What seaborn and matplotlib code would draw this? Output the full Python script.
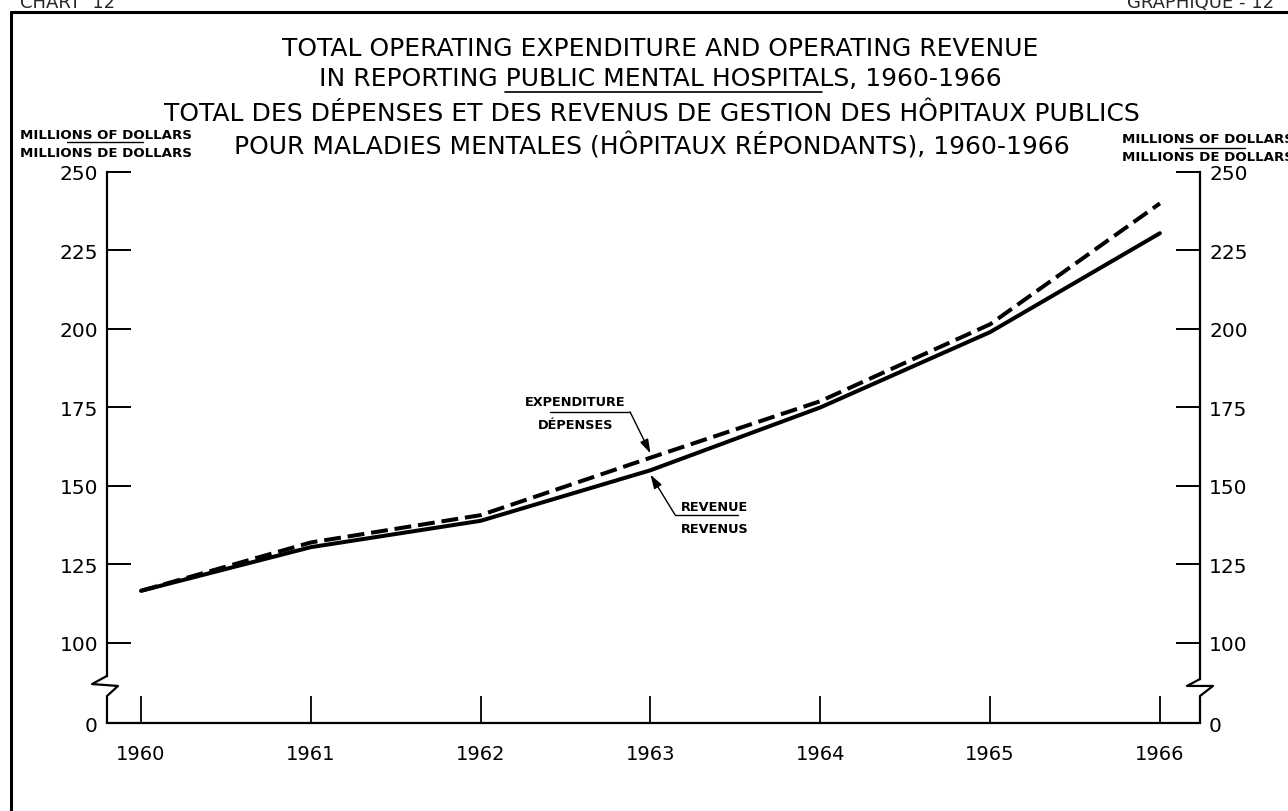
import matplotlib
matplotlib.use("Agg")
import pandas as pd
import seaborn as sns
import matplotlib.pyplot as plt
from matplotlib.lines import Line2D

# ---- data (millions of dollars) ----
years = [1960, 1961, 1962, 1963, 1964, 1965, 1966]
expenditure = [116.6, 132.0, 140.7, 159.0, 177.0, 201.5, 240.0]
revenue = [116.6, 130.5, 138.9, 155.0, 175.0, 199.0, 230.5]

y_ticks = [100, 125, 150, 175, 200, 225, 250]
ZERO_POS = 74.5   # the "0" sits below the axis break

title_en = ["TOTAL OPERATING EXPENDITURE AND OPERATING REVENUE",
            "IN REPORTING PUBLIC MENTAL HOSPITALS, 1960-1966"]
title_fr = ["TOTAL DES DÉPENSES ET DES REVENUS DE GESTION DES HÔPITAUX PUBLICS",
            "POUR MALADIES MENTALES (HÔPITAUX RÉPONDANTS), 1960-1966"]
unit_en = "MILLIONS OF DOLLARS"
unit_fr = "MILLIONS DE DOLLARS"

sns.set_theme(style="white")
plt.rcParams["font.family"] = ["DejaVu Sans"]

W, H = 1288, 812


def fx(px):
    return px / W


def fy(py):
    return 1 - py / H


df = pd.DataFrame({
    "year": years * 2,
    "value": expenditure + revenue,
    "serie": ["exp"] * len(years) + ["rev"] * len(years),
})

fig = plt.figure(figsize=(12.88, 8.12), dpi=100)
ax = fig.add_axes([fx(107), fy(724), fx(1200) - fx(107), fy(173) - fy(724)])

sns.lineplot(data=df, x="year", y="value", style="serie",
             dashes={"exp": (4.2, 1.7), "rev": ""}, color="black",
             linewidth=2.9, legend=False, ax=ax)

ax.set_xlim(1959.80, 1966.236)
ax.set_ylim(ZERO_POS, 250)
ax.set_xlabel("")
ax.set_ylabel("")

ax.set_xticks(years)
ax.set_xticklabels([str(y) for y in years], fontsize=14)
ax.set_yticks([ZERO_POS] + y_ticks)
ax.set_yticklabels(["0"] + [str(v) for v in y_ticks], fontsize=14.5)

ax.tick_params(axis="x", direction="in", length=19.5, width=1.3, pad=15,
               bottom=True, colors="black")
ax.tick_params(axis="y", direction="in", length=17.3, width=1.4, pad=6.5,
               left=True, right=True, labelleft=True, labelright=True,
               colors="black")

# spines with a broken scale between 0 and 100
ax.spines["top"].set_visible(False)
for side in ["left", "right", "bottom"]:
    ax.spines[side].set_color("black")
    ax.spines[side].set_linewidth(1.6)
ax.spines["left"].set_bounds(89.5, 250)
ax.spines["right"].set_bounds(88.5, 250)

ytr = ax.get_yaxis_transform()
ax.plot([0, -0.0137, 0.0101, 0, 0], [89.5, 86.9, 86.3, 83.1, ZERO_POS],
        transform=ytr, color="black", lw=1.6, clip_on=False)
ax.plot([1, 1 - 0.0119, 1 + 0.0119, 1, 1], [88.5, 86.3, 86.3, 83.1, ZERO_POS],
        transform=ytr, color="black", lw=1.6, clip_on=False)

# ---- line labels with leaders ----
note_kw = dict(fontsize=9.3, fontweight="bold", color="black", ha="center", va="center")
ax.text(1962.556, 176.8, "EXPENDITURE", **note_kw)
ax.text(1962.56, 169.6, "DÉPENSES", **note_kw)
ax.plot([1962.408, 1962.88], [173.6, 173.6], color="black", lw=1.0)
ax.annotate("", xy=(years[3], expenditure[3] + 1.4), xytext=(1962.88, 173.6),
            arrowprops=dict(arrowstyle="-|>,head_length=0.7,head_width=0.22",
                            color="black", lw=1.0, shrinkA=0, shrinkB=0))

ax.text(1963.38, 143.6, "REVENUE", **note_kw)
ax.text(1963.38, 136.3, "REVENUS", **note_kw)
ax.plot([1963.145, 1963.515], [140.8, 140.8], color="black", lw=1.0)
ax.annotate("", xy=(years[3], revenue[3] - 1.4), xytext=(1963.145, 140.8),
            arrowprops=dict(arrowstyle="-|>,head_length=0.7,head_width=0.22",
                            color="black", lw=1.0, shrinkA=0, shrinkB=0))

# ---- titles ----
tkw = dict(fontsize=18, ha="center", va="baseline", color="black")
fig.text(fx(660), fy(56), title_en[0], **tkw)
fig.text(fx(660), fy(86), title_en[1], **tkw)
fig.text(fx(652), fy(121), title_fr[0], **tkw)
fig.text(fx(652), fy(154), title_fr[1], **tkw)
fig.add_artist(Line2D([fx(505), fx(822)], [fy(93), fy(93)], color="black", lw=1.2))

ukw = dict(fontsize=9.6, fontweight="bold", va="baseline", color="black")
fig.text(fx(20), fy(139), unit_en, ha="left", **ukw)
fig.text(fx(20), fy(157), unit_fr, ha="left", **ukw)
fig.add_artist(Line2D([fx(67), fx(143)], [fy(143), fy(143)], color="black", lw=1.0))
fig.text(fx(1122), fy(143), unit_en, ha="left", **ukw)
fig.text(fx(1122), fy(161), unit_fr, ha="left", **ukw)
fig.add_artist(Line2D([fx(1180), fx(1245)], [fy(149), fy(149)], color="black", lw=1.0))

# page furniture: chart number and frame
fig.text(fx(20), fy(8), "CHART  12", fontsize=13, ha="left", va="baseline")
fig.text(fx(1127), fy(8), "GRAPHIQUE - 12", fontsize=13, ha="left", va="baseline")
fig.add_artist(Line2D([fx(11), fx(11)], [fy(13), 0], color="black", lw=2.2))
fig.add_artist(Line2D([fx(11), 1], [fy(13), fy(13)], color="black", lw=2.2))

fig.savefig("out.png", dpi=100, facecolor="white")
